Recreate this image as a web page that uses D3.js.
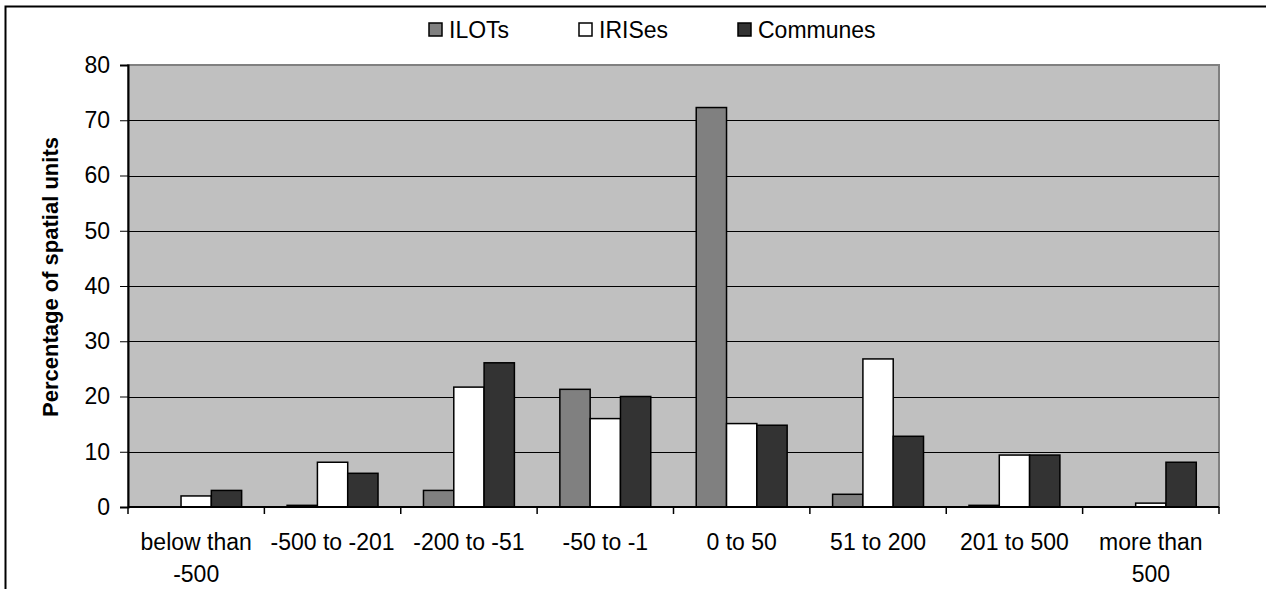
<!DOCTYPE html>
<html>
<head>
<meta charset="utf-8">
<script src="https://cdn.jsdelivr.net/npm/d3@7"></script>
<style>
  body { margin: 0; background: #fff; }
  text { font-family: "Liberation Sans", Arial, sans-serif; }
</style>
</head>
<body>
<svg id="chart"></svg>
<script>
// categories and series
const categories = ["below than -500", "-500 to -201", "-200 to -51", "-50 to -1",
  "0 to 50", "51 to 200", "201 to 500", "more than 500"];
const catLines = [["below than", "-500"], ["-500 to -201"], ["-200 to -51"], ["-50 to -1"],
  ["0 to 50"], ["51 to 200"], ["201 to 500"], ["more than", "500"]];
const seriesNames = ["ILOTs", "IRISes", "Communes"];
const ilots    = [0, 0.3, 3.0, 21.3, 72.3, 2.3, 0.3, 0];
const irises   = [2.0, 8.1, 21.7, 16.0, 15.1, 26.8, 9.4, 0.7];
const communes = [3.0, 6.1, 26.1, 20.0, 14.8, 12.8, 9.4, 8.1];
const yTicks = [0, 10, 20, 30, 40, 50, 60, 70, 80];

const colors = { "ILOTs": "#808080", "IRISes": "#ffffff", "Communes": "#333333" };

const plot = { left: 128, right: 1219, top: 65, bottom: 507 };
const fs = "23px";

const svg = d3.select("#chart")
  .attr("width", 1266)
  .attr("height", 589);

// outer frame (runs off the right / bottom of the picture)
svg.append("rect")
  .attr("x", 5.5).attr("y", 6.5)
  .attr("width", 1300).attr("height", 620)
  .attr("fill", "none")
  .attr("stroke", "#000")
  .attr("stroke-width", 2);

const x0 = d3.scaleBand()
  .domain(categories)
  .range([plot.left, plot.right]);

const x1 = d3.scaleBand()
  .domain(seriesNames)
  .range([0, x0.bandwidth()])
  .paddingInner(0)
  .paddingOuter(0.75);

const y = d3.scaleLinear()
  .domain([0, 80])
  .range([plot.bottom, plot.top]);

// plot background
svg.append("rect")
  .attr("x", plot.left).attr("y", plot.top)
  .attr("width", plot.right - plot.left)
  .attr("height", plot.bottom - plot.top)
  .attr("fill", "#c0c0c0")
  .attr("stroke", "#808080")
  .attr("stroke-width", 2);

// gridlines
svg.append("g")
  .selectAll("line")
  .data(yTicks.filter(d => d > 0 && d < 80))
  .enter()
  .append("line")
  .attr("x1", plot.left).attr("x2", plot.right)
  .attr("y1", d => Math.round(y(d)) + 0.5)
  .attr("y2", d => Math.round(y(d)) + 0.5)
  .attr("stroke", "#000")
  .attr("stroke-width", 1);

// bars
const table = categories.map((c, i) => ({
  cat: c,
  values: [
    { key: "ILOTs", v: ilots[i] },
    { key: "IRISes", v: irises[i] },
    { key: "Communes", v: communes[i] }
  ]
}));

svg.append("g")
  .selectAll("g")
  .data(table)
  .enter()
  .append("g")
  .attr("transform", d => "translate(" + x0(d.cat) + ",0)")
  .selectAll("rect")
  .data(d => d.values.filter(e => e.v > 0))
  .enter()
  .append("rect")
  .attr("x", d => x1(d.key))
  .attr("y", d => y(d.v))
  .attr("width", x1.bandwidth())
  .attr("height", d => y(0) - y(d.v))
  .attr("fill", d => colors[d.key])
  .attr("stroke", "#000")
  .attr("stroke-width", 1.5);

// y axis
const yAxis = svg.append("g")
  .attr("transform", "translate(" + plot.left + ",0)")
  .call(d3.axisLeft(y).tickValues(yTicks).tickSize(8).tickPadding(10));
yAxis.select(".domain").attr("stroke-width", 2);
yAxis.selectAll("text")
  .attr("font-size", fs)
  .attr("fill", "#000");

// x axis: ticks between categories
svg.append("line")
  .attr("x1", plot.left).attr("x2", plot.right)
  .attr("y1", plot.bottom).attr("y2", plot.bottom)
  .attr("stroke", "#000").attr("stroke-width", 2);

const bounds = categories.map(c => x0(c)).concat([plot.right]);
svg.append("g")
  .selectAll("line")
  .data(bounds)
  .enter()
  .append("line")
  .attr("x1", d => d).attr("x2", d => d)
  .attr("y1", plot.bottom).attr("y2", plot.bottom + 7)
  .attr("stroke", "#000").attr("stroke-width", 1.5);

// category labels (two lines where Excel wrapped them)
const labels = svg.append("g")
  .selectAll("text")
  .data(categories)
  .enter()
  .append("text")
  .attr("x", d => x0(d) + x0.bandwidth() / 2)
  .attr("y", 550)
  .attr("text-anchor", "middle")
  .attr("font-size", fs);
labels.selectAll("tspan")
  .data((d, i) => catLines[i])
  .enter()
  .append("tspan")
  .attr("x", function () { return this.parentNode.getAttribute("x"); })
  .attr("dy", (d, i) => i === 0 ? 0 : 32)
  .text(d => d);

// y title
svg.append("text")
  .attr("transform", "translate(58," + 277 + ") rotate(-90)")
  .attr("text-anchor", "middle")
  .attr("font-size", "22px")
  .attr("font-weight", "bold")
  .text("Percentage of spatial units");

// legend
const legendX = [429, 579, 738];
const legend = svg.append("g")
  .selectAll("g")
  .data(seriesNames)
  .enter()
  .append("g")
  .attr("transform", (d, i) => "translate(" + legendX[i] + ",23)");
legend.append("rect")
  .attr("width", 13).attr("height", 13)
  .attr("fill", d => colors[d])
  .attr("stroke", "#000")
  .attr("stroke-width", 1.5);
legend.append("text")
  .attr("x", 20).attr("y", 15)
  .attr("font-size", fs)
  .text(d => d);
</script>
</body>
</html>
